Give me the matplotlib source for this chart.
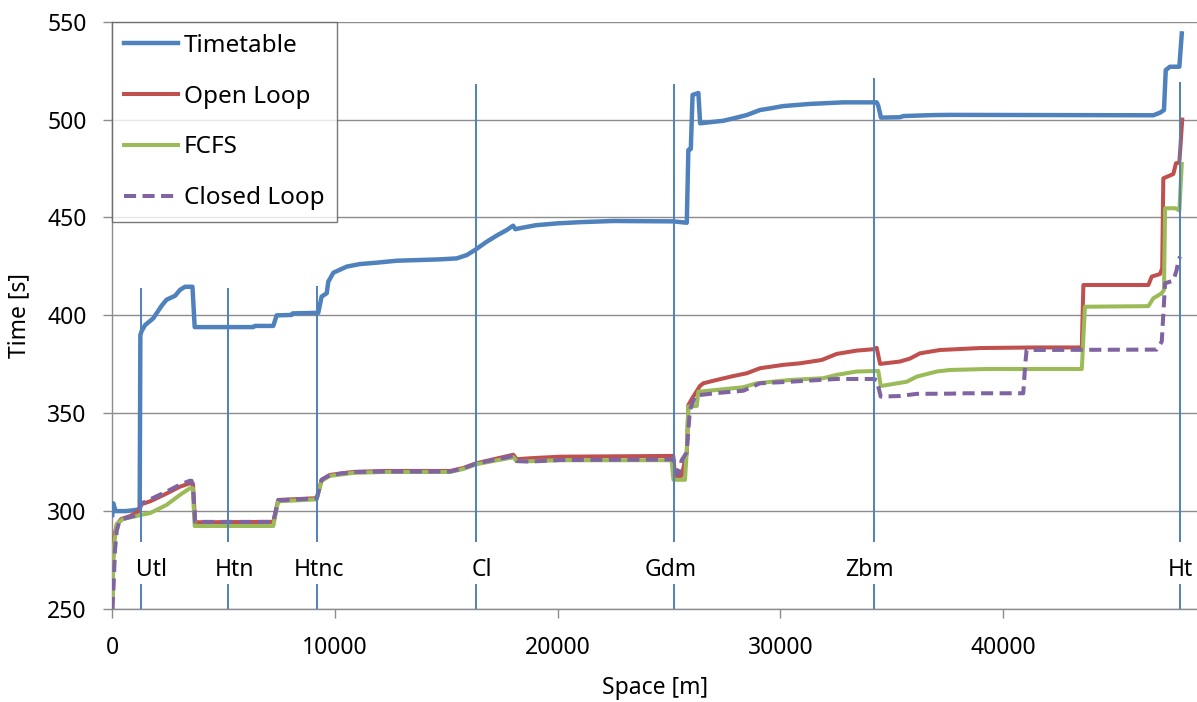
import matplotlib
matplotlib.use("Agg")
import matplotlib.pyplot as plt
from matplotlib.transforms import offset_copy

# ---------------- data ----------------
timetable_x = [0, 40, 150, 600, 1000, 1230, 1260, 1320, 1470, 1840, 2220, 2440, 2820, 3040, 3265,
               3600, 3700, 6330, 6400, 7230, 7380, 8050, 8100, 9250, 9400, 9630, 9700, 9930, 10530,
               11120, 11870, 12770, 14720, 15470, 15920, 16290, 16800, 17300, 17700, 18000, 18100,
               18300, 19000, 20000, 21000, 22500, 25200, 25800, 25870, 25980, 26060, 26320, 26400,
               27440, 27890, 28490, 29090, 29540, 30130, 31330, 32830, 34330, 34400, 34520, 35370,
               35530, 36870, 37620, 46750, 47050, 47230, 47310, 47500, 47920, 48030]
timetable_y = [298, 304, 300, 300, 300.5, 301, 390, 392, 395, 398.5, 405, 408, 410, 413, 414.6,
               414.6, 394, 394, 394.6, 394.6, 400, 400.2, 401, 401.3, 409.6, 411.3, 417.2, 421.8, 424.9,
               426.2, 426.9, 427.9, 428.6, 429.1, 430.8, 433.4, 437.5, 441, 443.5, 445.8, 444,
               444.5, 446, 447, 447.6, 448.2, 448, 447.3, 484.5, 485, 512.6, 513.6, 498.1,
               499.4, 500.6, 502.3, 504.9, 505.7, 506.9, 508, 508.8, 508.8, 507, 501, 501.2,
               501.8, 502.3, 502.4, 502.2, 503.5, 504.9, 525.3, 527, 527, 544]

openloop_x = [0, 40, 100, 200, 400, 800, 1200, 1300, 1700, 2440, 3040, 3560, 3620, 3720, 7230, 7450,
              9180, 9400, 9780, 10820, 12170, 15170, 15760, 16370, 18010, 18160, 18760, 20100,
              25195, 25270, 25570, 25800, 25870, 26090, 26390, 26540, 27140, 27890, 28490, 29090,
              30130, 30880, 31860, 32530, 33430, 34180, 34330, 34480, 35370, 35820, 36270, 37170,
              38970, 41360, 43540, 43610, 46530, 46680, 47050, 47150, 47200, 47650, 47770, 47920,
              48050]
openloop_y = [250, 275, 288, 293, 296, 297.5, 300, 303.5, 305, 309, 312.5, 314.5, 314, 294.3, 294.5, 305.7,
              306.6, 316, 318.5, 320, 320.5, 320.5, 322, 324.5, 328.8, 326.5, 327, 327.8,
              328.2, 317.7, 318, 330, 354.2, 358.5, 363.9, 365.3, 367, 369, 370.4, 373,
              374.7, 375.5, 377.2, 380.3, 382, 382.7, 383.4, 375.2, 376.4, 377.9, 380.6, 382.3,
              383.3, 383.6, 383.6, 415.5, 415.5, 419.8, 421.1, 424, 470, 472.2, 477.7, 478,
              500]

fcfs_x = [0, 60, 200, 490, 1100, 1250, 1700, 2440, 3040, 3490, 3610, 3700, 7230, 7450, 9180, 9400,
          9780, 10820, 12170, 15170, 15760, 16370, 18010, 18160, 18760, 20100, 25120, 25200, 25720,
          25800, 25870, 26250, 26320, 27140, 28340, 28940, 30440, 31930, 32530, 33430, 34400, 34510,
          35680, 36130, 37020, 37620, 39270, 43540, 43680, 46530, 46750, 47130, 47230, 47280, 47740,
          47920, 48030]
fcfs_y = [250, 281, 293.5, 296, 297.5, 298, 299, 303.2, 308.3, 311.7, 311.7, 292.4, 292.4, 305, 306, 315.5,
          318, 319.5, 320, 320, 321.5, 324, 327.5, 325.5, 325.5, 326, 326, 316, 316,
          331, 353.4, 353.7, 361, 361.9, 363.3, 365.3, 367, 367.9, 369.6, 371.3, 371.6, 363.9,
          366.1, 368.7, 371.3, 372.1, 372.6, 372.6, 404.4, 404.7, 408.7, 411.3, 413, 454.7, 454.7,
          453.6, 477.3]

closedloop_x = [0, 60, 120, 200, 300, 500, 1100, 1250, 1320, 1700, 2440, 3040, 3480, 3560, 3640, 3720,
                7230, 7450, 9180, 9400, 9780, 10820, 12170, 15170, 15760, 16370, 18010, 18160, 18760,
                20100, 25195, 25420, 25570, 25796, 25940, 26170, 26390, 27140, 28340, 29090, 30440,
                32530, 34180, 34330, 34510, 35370, 36130, 37620, 38370, 40910, 41000, 41060, 46900,
                47130, 47280, 47650, 47800, 47880, 47950]
closedloop_y = [250, 262, 280, 290, 294, 296, 298, 302, 304, 306, 310, 313.5, 315.5, 315.5, 310, 294.5,
                294.5, 305.5, 306.5, 316, 318.5, 320, 320.2, 320.2, 321.9, 324.4, 328.2, 325.6, 325.3,
                326.1, 326.4, 318.6, 326, 330, 351.7, 358.5, 359.3, 360.3, 361.5, 365.3, 366.1,
                367.5, 367.5, 367, 358.5, 358.8, 359.9, 360, 360.2, 360.2, 375, 382.3, 382.5,
                386.6, 416.4, 417.7, 423.2, 428, 430]

stations = ["Utl", "Htn", "Htnc", "Cl", "Gdm", "Zbm", "Ht"]
station_x = [1275, 5210, 9210, 16330, 25230, 34210, 47950]
station_top = [414, 414, 415, 518, 518, 521, 519]
station_label_y = 270
gap_low, gap_high = 263, 284

x_ticks = [0, 10000, 20000, 30000, 40000]
y_ticks = [250, 300, 350, 400, 450, 500, 550]

# ---------------- style ----------------
plt.rcParams['font.family'] = ['Noto Sans', 'DejaVu Sans']
FS = 16.5
LFS = 17.5
BLUE = '#4F81BD'
RED = '#C0504D'
GREEN = '#9BBB59'
PURPLE = '#8064A2'
GRID = '#8C8C8C'
label_dx_px = [11, 6, 2, 6, -3, -5, 0]   # small horizontal nudges of station labels (pixels)

fig = plt.figure(figsize=(11.97, 7.02), dpi=100)
ax = fig.add_axes([112.3 / 1197, 1 - 609 / 702, 1 - 112.3 / 1197, (609 - 21.7) / 702])

ax.plot(timetable_x, timetable_y, color=BLUE, lw=3.2, label='Timetable', zorder=3, solid_joinstyle='round')
ax.plot(openloop_x, openloop_y, color=RED, lw=2.9, label='Open Loop', zorder=3, solid_joinstyle='round')
ax.plot(fcfs_x, fcfs_y, color=GREEN, lw=2.9, label='FCFS', zorder=3, solid_joinstyle='round')
ax.plot(closedloop_x, closedloop_y, color=PURPLE, lw=2.9, ls=(0, (3.0, 1.6)), label='Closed Loop',
        zorder=3)

# station lines (split around labels)
ax.vlines(station_x, 250, gap_low, color=BLUE, lw=1.4, zorder=4)
ax.vlines(station_x, gap_high, station_top, color=BLUE, lw=1.4, zorder=4)
for sx, name, dx in zip(station_x, stations, label_dx_px):
    tr = offset_copy(ax.transData, fig=fig, x=dx, y=0, units='dots')
    ax.text(sx, station_label_y, name, ha='center', va='center', fontsize=FS, color='black',
            zorder=5, transform=tr)

ax.set_xlim(0, 48713)
ax.set_ylim(250, 550)
ax.set_xticks(x_ticks)
ax.set_yticks(y_ticks)
ax.tick_params(axis='both', labelsize=FS, colors=GRID, labelcolor='black', length=6.5, width=1,
               direction='out')
ax.tick_params(axis='y', pad=12)
ax.tick_params(axis='x', pad=13)
ax.yaxis.grid(True, color=GRID, lw=1.0, zorder=0)
ax.set_axisbelow(True)
for s in ['top', 'right']:
    ax.spines[s].set_visible(False)
for s in ['left', 'bottom']:
    ax.spines[s].set_color(GRID)
    ax.spines[s].set_linewidth(1.0)

fig.text(654.6 / 1197, 1 - 688 / 702, 'Space [m]', fontsize=FS, ha='center', va='center')
fig.text(19 / 1197, 1 - 315 / 702, 'Time [s]', fontsize=FS, ha='center', va='center', rotation=90)

leg = ax.legend(loc='upper left', bbox_to_anchor=(0, 1), borderaxespad=0, fontsize=LFS,
                frameon=True, fancybox=False, handlelength=2.2, handletextpad=0.25,
                labelspacing=1.1, borderpad=0.5)
leg.get_frame().set_edgecolor('#595959')
leg.get_frame().set_linewidth(1.0)
leg.set_zorder(6)

fig.savefig('out.png', dpi=100)
